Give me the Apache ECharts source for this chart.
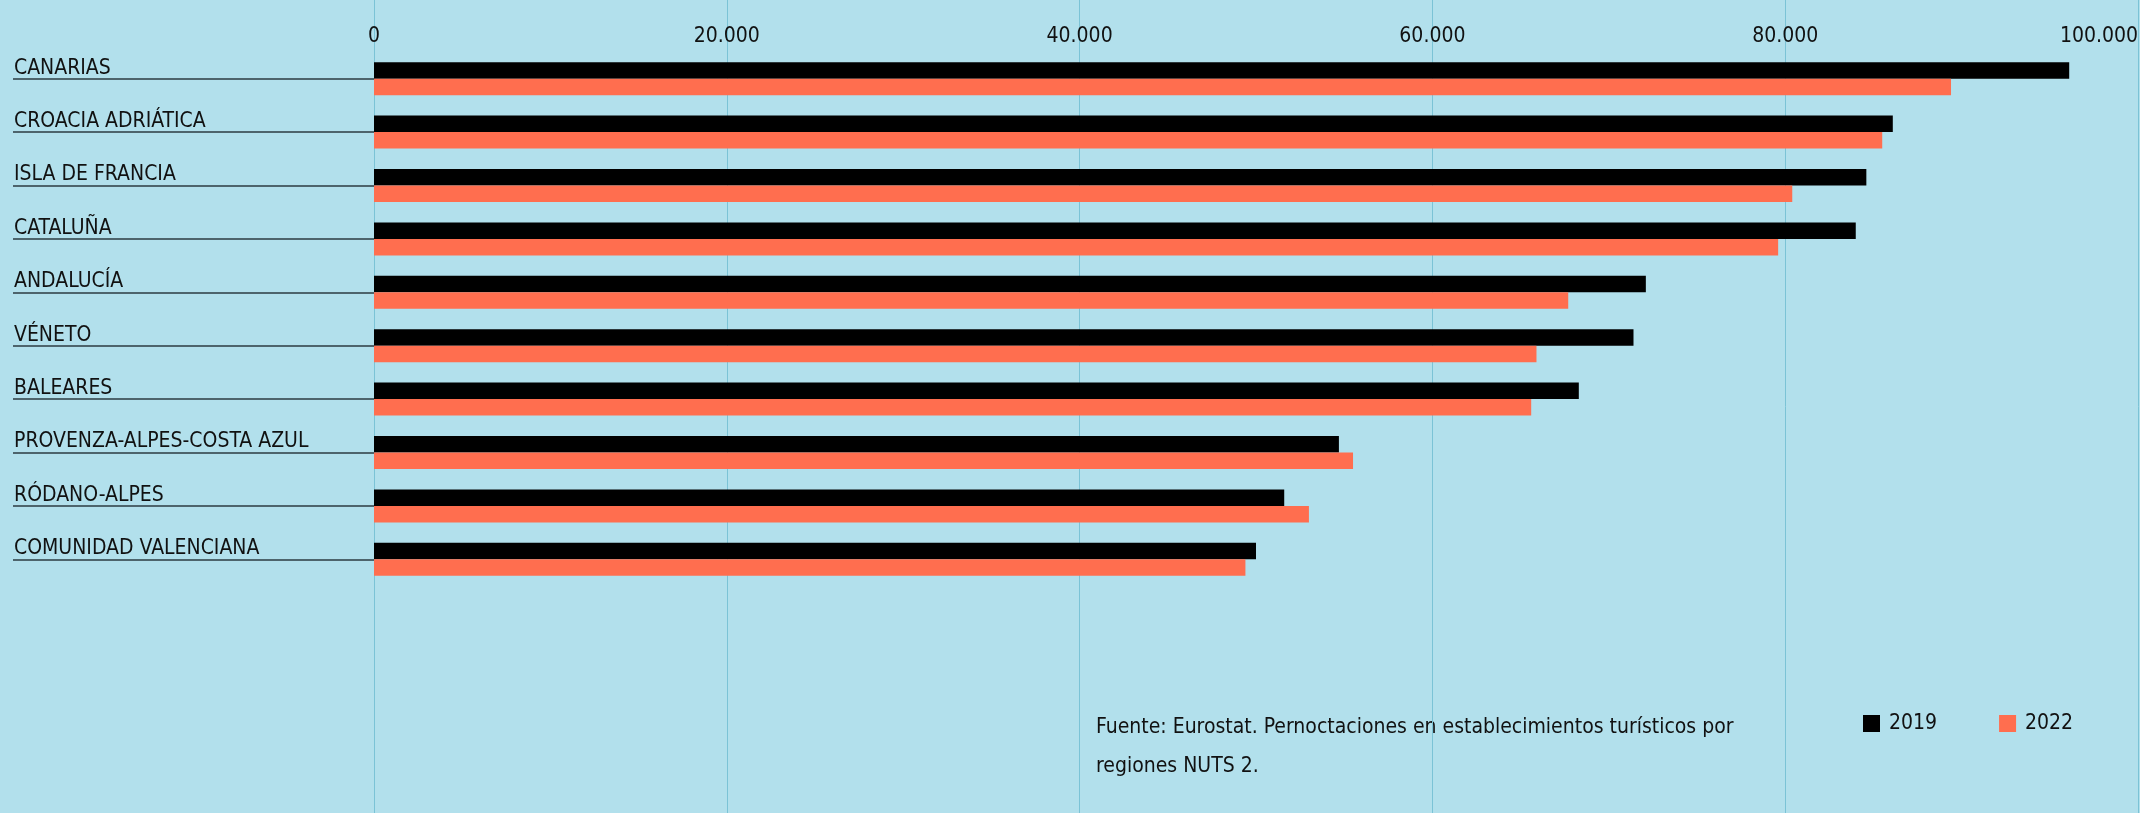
<!DOCTYPE html>
<html>
<head>
<meta charset="utf-8">
<script src="https://cdn.jsdelivr.net/npm/echarts@6/dist/echarts.min.js"></script>
<style>
  html, body { margin: 0; padding: 0; background: #b2e0ec; }
  #chart { width: 2140px; height: 813px; }
</style>
</head>
<body>
<div id="chart"></div>
<script>
// regiones (de arriba a abajo)
const regiones = [
  'CANARIAS',
  'CROACIA ADRIÁTICA',
  'ISLA DE FRANCIA',
  'CATALUÑA',
  'ANDALUCÍA',
  'VÉNETO',
  'BALEARES',
  'PROVENZA-ALPES-COSTA AZUL',
  'RÓDANO-ALPES',
  'COMUNIDAD VALENCIANA'
]

// pernoctaciones (miles)
const valores2019 = [96100, 86100, 84600, 84000, 72100, 71400, 68300, 54700, 51600, 50000]
const valores2022 = [89400, 85500, 80400, 79600, 67700, 65900, 65600, 55500, 53000, 49400]

const ejeMin = 0
const ejeMax = 100000
const ejeIntervalo = 20000

const fuente = 'Fuente: Eurostat. Pernoctaciones en establecimientos turísticos por\nregiones NUTS 2.'

const FONT = "'Liberation Sans Narrow', 'DejaVu Sans Condensed', 'Roboto', sans-serif"
const FS = 21

function formatNum(v) {
  return String(v).replace(/\B(?=(\d{3})+(?!\d))/g, '.')
}

const chart = echarts.init(document.getElementById('chart'))

const option = {
  backgroundColor: '#b2e0ec',
  textStyle: { fontFamily: FONT },
  animation: false,
  legend: {
    data: ['2019', '2022'],
    left: 1863,
    top: 713,
    padding: 0,
    icon: 'rect',
    itemWidth: 17,
    itemHeight: 17,
    itemGap: 62,
    textStyle: {
      fontFamily: FONT,
      fontSize: FS,
      fontWeight: 500,
      color: '#111',
      padding: [0, 0, 0, 4]
    }
  },
  grid: [
    // solo para las líneas verticales a toda altura
    { left: 374, right: 2, top: 0, bottom: 0, outerBoundsMode: 'none' },
    // barras
    { left: 374, right: 2, top: 52, height: 534, outerBoundsMode: 'none' }
  ],
  xAxis: [
    {
      gridIndex: 0,
      type: 'value',
      min: ejeMin,
      max: ejeMax,
      interval: ejeIntervalo,
      axisLabel: { show: false },
      axisLine: { show: false },
      axisTick: { show: false },
      splitLine: { show: true, lineStyle: { color: '#7bc3d6', width: 1 } }
    },
    {
      gridIndex: 1,
      type: 'value',
      position: 'top',
      min: ejeMin,
      max: ejeMax,
      interval: ejeIntervalo,
      axisLabel: {
        margin: 5,
        fontFamily: FONT,
        fontSize: FS,
        fontWeight: 500,
        color: '#111',
        alignMaxLabel: 'right',
        formatter: formatNum
      },
      axisLine: { show: false },
      axisTick: { show: false },
      splitLine: { show: false }
    }
  ],
  yAxis: [
    { gridIndex: 0, type: 'value', show: false },
    {
      gridIndex: 1,
      type: 'category',
      inverse: true,
      data: regiones,
      axisLine: { show: false },
      axisTick: {
        show: true,
        alignWithLabel: true,
        length: 361,
        lineStyle: { color: '#2c3b42', width: 1.5 }
      },
      axisLabel: {
        margin: 360,
        align: 'left',
        verticalAlign: 'bottom',
        fontFamily: FONT,
        fontSize: FS,
        fontWeight: 500,
        color: '#111'
      }
    }
  ],
  series: [
    {
      name: '2019',
      type: 'bar',
      xAxisIndex: 1,
      yAxisIndex: 1,
      data: valores2019,
      barWidth: 16.5,
      barGap: '0%',
      itemStyle: { color: '#000000' }
    },
    {
      name: '2022',
      type: 'bar',
      xAxisIndex: 1,
      yAxisIndex: 1,
      data: valores2022,
      barWidth: 16.5,
      barGap: '0%',
      itemStyle: { color: '#ff6e4f' }
    }
  ],
  graphic: [
    {
      type: 'text',
      left: 1096,
      top: 708,
      style: {
        text: fuente,
        font: '500 ' + FS + 'px ' + FONT,
        fill: '#111',
        lineHeight: 39
      }
    }
  ]
}

chart.setOption(option)
</script>
</body>
</html>
